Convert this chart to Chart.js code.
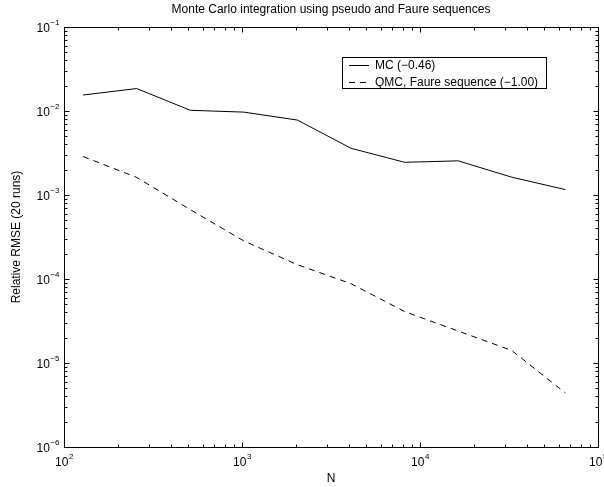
<!DOCTYPE html>
<html>
<head>
<meta charset="utf-8">
<script src="https://cdn.jsdelivr.net/npm/chart.js@4.4.1/dist/chart.umd.min.js"></script>
<style>
  html, body { margin: 0; padding: 0; background: #fff; }
  canvas { display: block; }
</style>
</head>
<body>
<canvas id="mcChart" width="604" height="487"></canvas>
<script>
// sample sizes and relative RMSE
const nValues = [128, 256, 512, 1024, 2048, 4096, 8192, 16384, 32768, 65536];
const mcRmse = [1.55e-2, 1.85e-2, 1.02e-2, 9.7e-3, 7.8e-3, 3.6e-3, 2.45e-3, 2.55e-3, 1.63e-3, 1.16e-3];
const qmcRmse = [2.87e-3, 1.62e-3, 6.7e-4, 2.84e-4, 1.48e-4, 8.8e-5, 4.1e-5, 2.4e-5, 1.41e-5, 4.4e-6];

const seriesLabels = ['MC (\u22120.46)', 'QMC, Faure sequence (\u22121.00)'];
const xDecades = [2, 3, 4, 5];
const yDecades = [-6, -5, -4, -3, -2, -1];
const chartTitle = 'Monte Carlo integration using pseudo and Faure sequences';
const xTitle = 'N';
const yTitle = 'Relative RMSE (20 runs)';

const FONT = '"Liberation Sans", Arial, Helvetica, sans-serif';

function toPoints(ys) {
  return nValues.map((n, i) => ({ x: n, y: ys[i] }));
}

function sup(ctx, base, exp, x, y, align) {
  ctx.font = '12px ' + FONT;
  const bw = ctx.measureText(base).width;
  ctx.font = '8px ' + FONT;
  const ew = ctx.measureText(exp).width;
  let left;
  if (align === 'center') left = x - (bw + ew) / 2;
  else left = x - bw - ew;
  ctx.textAlign = 'left';
  ctx.textBaseline = 'alphabetic';
  ctx.font = '12px ' + FONT;
  ctx.fillText(base, left, y);
  ctx.font = '8px ' + FONT;
  ctx.fillText(exp, left + bw + 0.5, y - 7);
}

const matlabAxes = {
  id: 'matlabAxes',
  afterDraw(chart) {
    const { ctx, chartArea: a, scales } = chart;
    const xs = scales.x, ys = scales.y;
    ctx.save();
    ctx.strokeStyle = '#000';
    ctx.fillStyle = '#000';
    ctx.lineWidth = 1;

    // box
    const L = Math.round(a.left) + 0.5, R = Math.round(a.right) + 0.5;
    const T = Math.round(a.top) + 0.5, B = Math.round(a.bottom) + 0.5;
    ctx.strokeRect(L, T, R - L, B - T);

    // ticks on all four sides, pointing in
    ctx.beginPath();
    xDecades.forEach(d => {
      for (let m = 1; m <= 9; m++) {
        const v = m * Math.pow(10, d);
        if (v > xs.max) break;
        const px = Math.round(xs.getPixelForValue(v)) + 0.5;
        const len = m === 1 ? 5 : 3;
        ctx.moveTo(px, B); ctx.lineTo(px, B - len);
        ctx.moveTo(px, T); ctx.lineTo(px, T + len);
      }
    });
    yDecades.forEach(d => {
      for (let m = 1; m <= 9; m++) {
        const v = m * Math.pow(10, d);
        if (v > ys.max) break;
        const py = Math.round(ys.getPixelForValue(v)) + 0.5;
        const len = m === 1 ? 5 : 3;
        ctx.moveTo(L, py); ctx.lineTo(L + len, py);
        ctx.moveTo(R, py); ctx.lineTo(R - len, py);
      }
    });
    ctx.stroke();

    // tick labels
    xDecades.forEach(d => {
      const px = xs.getPixelForValue(Math.pow(10, d));
      sup(ctx, '10', String(d), px, a.bottom + 19, 'center');
    });
    yDecades.forEach(d => {
      const py = ys.getPixelForValue(Math.pow(10, d));
      sup(ctx, '10', '\u2212' + Math.abs(d), a.left - 5, py + 5, 'right');
    });

    // titles
    ctx.font = '12px ' + FONT;
    ctx.textAlign = 'center';
    ctx.textBaseline = 'middle';
    ctx.fillText(chartTitle, (a.left + a.right) / 2, 10);
    ctx.fillText(xTitle, (a.left + a.right) / 2, 479);
    ctx.save();
    ctx.translate(17, (a.top + a.bottom) / 2);
    ctx.rotate(-Math.PI / 2);
    ctx.fillText(yTitle, 0, 0);
    ctx.restore();

    // legend
    const lx = 342, ly = 57, lw = 204, lh = 31;
    ctx.fillStyle = '#fff';
    ctx.fillRect(lx, ly, lw, lh);
    ctx.strokeRect(lx + 0.5, ly + 0.5, lw, lh);
    ctx.fillStyle = '#000';
    ctx.font = '12px ' + FONT;
    chart.data.datasets.forEach((ds, i) => {
      const yy = Math.round(ly + 8 + i * 16.5) + 0.5;
      ctx.setLineDash(ds.borderDash || []);
      ctx.beginPath();
      ctx.moveTo(349, yy); ctx.lineTo(369, yy);
      ctx.stroke();
      ctx.setLineDash([]);
      ctx.textAlign = 'left';
      ctx.textBaseline = 'middle';
      ctx.fillText(ds.label, 375, yy);
    });
    ctx.restore();
  }
};

new Chart(document.getElementById('mcChart'), {
  type: 'line',
  data: {
    datasets: [
      { label: seriesLabels[0], data: toPoints(mcRmse), borderColor: '#000', borderWidth: 1, pointRadius: 0, fill: false, tension: 0 },
      { label: seriesLabels[1], data: toPoints(qmcRmse), borderColor: '#000', borderWidth: 1, borderDash: [6, 5], pointRadius: 0, fill: false, tension: 0 }
    ]
  },
  options: {
    responsive: false,
    animation: false,
    layout: { padding: { left: 56, right: 6, top: 27, bottom: 32 } },
    plugins: { legend: { display: false }, title: { display: false }, tooltip: { enabled: false } },
    scales: {
      x: { type: 'logarithmic', min: 100, max: 100000, ticks: { display: false }, grid: { display: false }, border: { display: false } },
      y: { type: 'logarithmic', min: 1e-6, max: 1e-1, ticks: { display: false }, grid: { display: false }, border: { display: false } }
    }
  },
  plugins: [matlabAxes]
});
</script>
</body>
</html>
